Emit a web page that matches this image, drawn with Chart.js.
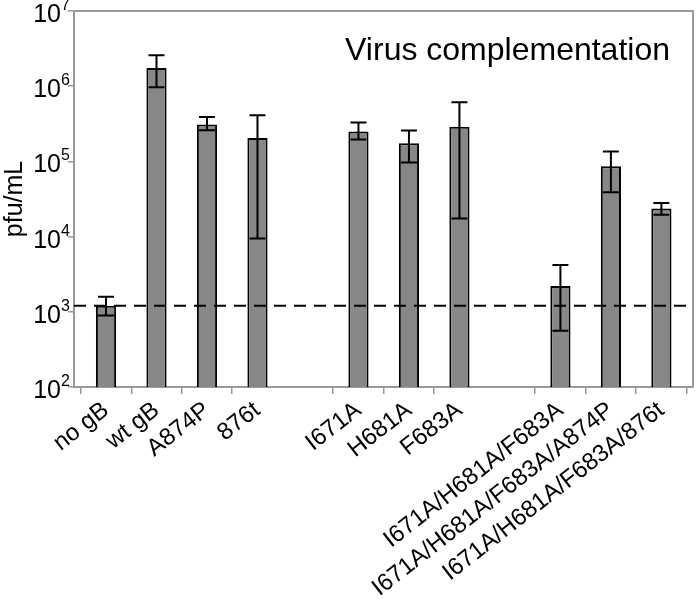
<!DOCTYPE html>
<html>
<head>
<meta charset="utf-8">
<script src="https://cdn.jsdelivr.net/npm/chart.js@4"></script>
<style>
  html, body { margin: 0; padding: 0; background: #fff; }
  #wrap { width: 700px; height: 599px; }
</style>
</head>
<body>
<div id="wrap"><canvas id="virusChart" width="700" height="599"></canvas></div>
<script>
// empty strings are the spacer slots between groups
var labels = ['no gB', 'wt gB', 'A874P', '876t', '', 'I671A', 'H681A', 'F683A', '',
    'I671A/H681A/F683A', 'I671A/H681A/F683A/A874P', 'I671A/H681A/F683A/876t'];
var titers = [1200, 1740000, 310000, 205000, null, 250000, 174000, 290000, null, 2200, 86000, 23600];
var errHigh = [1580, 2570000, 390000, 410000, null, 330000, 257000, 610000, null, 4200, 135000, 28000];
var errLow = [890, 970000, 260000, 9400, null, 195000, 97000, 17400, null, 560, 39000, 19500];
var yTicks = [100, 1000, 10000, 100000, 1000000, 10000000];
var baseline = titers[0];

var FONT = '"Liberation Sans", Arial, sans-serif';

var extras = {
    id: 'extras',
    afterDatasetsDraw: function (chart) {
        var ctx = chart.ctx, area = chart.chartArea;
        var x = chart.scales.x, y = chart.scales.y;
        ctx.save();
        // frame on top / right
        ctx.strokeStyle = '#999';
        ctx.lineWidth = 2;
        ctx.beginPath();
        ctx.moveTo(area.left, area.top);
        ctx.lineTo(area.right, area.top);
        ctx.lineTo(area.right, area.bottom);
        ctx.stroke();

        // error bars
        ctx.strokeStyle = '#000';
        ctx.lineWidth = 2;
        for (var i = 0; i < labels.length; i++) {
            if (titers[i] == null) continue;
            var cx = x.getPixelForValue(i);
            var yh = y.getPixelForValue(errHigh[i]);
            var yl = y.getPixelForValue(errLow[i]);
            ctx.beginPath();
            ctx.moveTo(cx, yh); ctx.lineTo(cx, yl);
            ctx.moveTo(cx - 8, yh); ctx.lineTo(cx + 8, yh);
            ctx.moveTo(cx - 8, yl); ctx.lineTo(cx + 8, yl);
            ctx.stroke();
        }

        // dashed baseline (no gB level)
        var yb = y.getPixelForValue(baseline);
        ctx.setLineDash([12, 8]);
        ctx.beginPath();
        ctx.moveTo(area.left, yb);
        ctx.lineTo(area.right, yb);
        ctx.stroke();
        ctx.setLineDash([]);

        // title inside plot
        ctx.fillStyle = '#000';
        ctx.font = '32px ' + FONT;
        ctx.textAlign = 'right';
        ctx.textBaseline = 'alphabetic';
        ctx.fillText('Virus complementation', area.right - 23, 60);

        // y tick labels as 10 with superscript exponent
        yTicks.forEach(function (v) {
            var py = y.getPixelForValue(v);
            var e = String(Math.round(Math.log10(v)));
            ctx.font = '25px ' + FONT;
            ctx.textAlign = 'right';
            ctx.textBaseline = 'alphabetic';
            ctx.fillText('10', 61, py + 11);
            ctx.font = '16px ' + FONT;
            ctx.textAlign = 'left';
            ctx.fillText(e, 61, py - 1);
        });
        ctx.restore();
    }
};

var ctx1 = document.getElementById('virusChart').getContext('2d');
var virusChart = new Chart(ctx1, {
    type: 'bar',
    data: {
        labels: labels,
        datasets: [{
            label: 'pfu/mL',
            data: titers,
            backgroundColor: '#878787',
            borderColor: '#000',
            borderWidth: 2,
            borderSkipped: 'bottom',
            barPercentage: 0.4,
            categoryPercentage: 1
        }]
    },
    options: {
        responsive: false,
        animation: false,
        layout: { padding: { top: 11, right: 7, left: 0, bottom: 0 } },
        plugins: {
            legend: { display: false },
            tooltip: { enabled: false }
        },
        scales: {
            x: {
                grid: {
                    offset: true,
                    drawOnChartArea: false,
                    tickLength: 7,
                    color: '#999',
                    tickColor: function (c) {
                        return (c.index === 4 || c.index === 8) ? 'rgba(0,0,0,0)' : '#999';
                    },
                    lineWidth: 1.5
                },
                border: { color: '#999', width: 2 },
                ticks: {
                    color: '#000',
                    autoSkip: false,
                    minRotation: 38,
                    maxRotation: 38,
                    padding: 2,
                    font: { family: FONT, size: 24 }
                },
                // categories sit a little inside the plot frame, as in the original
                afterBuildTicks: function (scale) {
                    scale._startValue = -0.634;
                    scale._valueRange = 12.26;
                },
                afterFit: function (scale) { scale.height = 212; }
            },
            y: {
                type: 'logarithmic',
                min: 100,
                max: 10000000,
                afterBuildTicks: function (scale) {
                    scale.ticks = yTicks.map(function (v) { return { value: v }; });
                },
                grid: {
                    drawOnChartArea: false,
                    tickLength: 6,
                    color: '#999',
                    lineWidth: 1.5
                },
                border: { color: '#999', width: 2 },
                ticks: {
                    callback: function () { return ''; }
                },
                title: {
                    display: true,
                    text: 'pfu/mL',
                    color: '#000',
                    padding: 0,
                    font: { family: FONT, size: 25 }
                },
                afterFit: function (scale) { scale.width = 74; }
            }
        }
    },
    plugins: [extras]
});
</script>
</body>
</html>
